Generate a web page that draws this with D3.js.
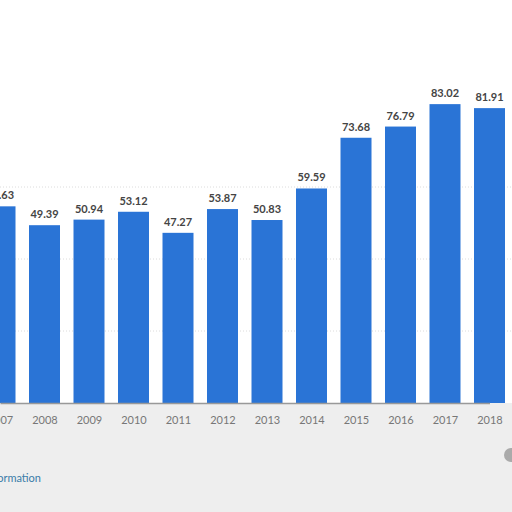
<!DOCTYPE html>
<html><head><meta charset="utf-8">
<script src="https://cdn.jsdelivr.net/npm/d3@7"></script>
<style>html,body{margin:0;padding:0;background:#fff;overflow:hidden}</style>
</head><body>
<svg id="c" width="512" height="512"></svg>
<script>
const years = ["2007","2008","2009","2010","2011","2012","2013","2014","2015","2016","2017","2018"];
const values = [54.63,49.39,50.94,53.12,47.27,53.87,50.83,59.59,73.68,76.79,83.02,81.91];
const gridTicks = [20,40,60];

const svg = d3.select("#c");
const W = 512, H = 512;
const base = 403;
const x = d3.scalePoint().domain(years).range([0, 489.5]);
const bw = 31;
const y = d3.scaleLinear().domain([0, 100]).range([base, base - 360]);

svg.append("rect").attr("width", W).attr("height", H).attr("fill", "#fff");
// light gray footer area
svg.append("rect").attr("x",0).attr("y",base).attr("width",W).attr("height",H-base).attr("fill","#eeeeee");

svg.append("g").selectAll("line").data(gridTicks).join("line")
  .attr("x1",0).attr("x2",W).attr("y1",d=>y(d)).attr("y2",d=>y(d))
  .attr("stroke","#dcdcdc").attr("stroke-dasharray","1,2");

svg.append("g").selectAll("rect").data(values).join("rect")
  .attr("x",(d,i)=>x(years[i]) - bw/2)
  .attr("y",d=>y(d))
  .attr("width",bw)
  .attr("height",d=>base - y(d))
  .attr("fill","#2a74d6");

svg.append("g").selectAll("text").data(values).join("text")
  .attr("x",(d,i)=>x(years[i]))
  .attr("y",d=>y(d) - 7)
  .attr("text-anchor","middle")
  .attr("font-family","Lato, 'Open Sans', sans-serif")
  .attr("font-weight","bold")
  .attr("font-size",11)
  .attr("fill","#444")
  .text(d=>d.toFixed(2));

const axis = d3.axisBottom(x).tickSize(0).tickPadding(13);
const gx = svg.append("g").attr("transform",`translate(0,${base})`).call(axis);
gx.select(".domain").attr("stroke","#999").attr("stroke-width",1.5);
gx.selectAll("text").attr("font-family","Lato, 'Open Sans', sans-serif").attr("font-size",11).attr("fill","#777");

svg.append("text").attr("x",41).attr("y",482).attr("text-anchor","end")
  .attr("font-family","Lato, 'Open Sans', sans-serif").attr("font-size",11)
  .attr("fill","#3a7ca8").text("Additional Information");

svg.append("circle").attr("cx",511).attr("cy",455).attr("r",7).attr("fill","#aaa");
</script>
</body></html>
